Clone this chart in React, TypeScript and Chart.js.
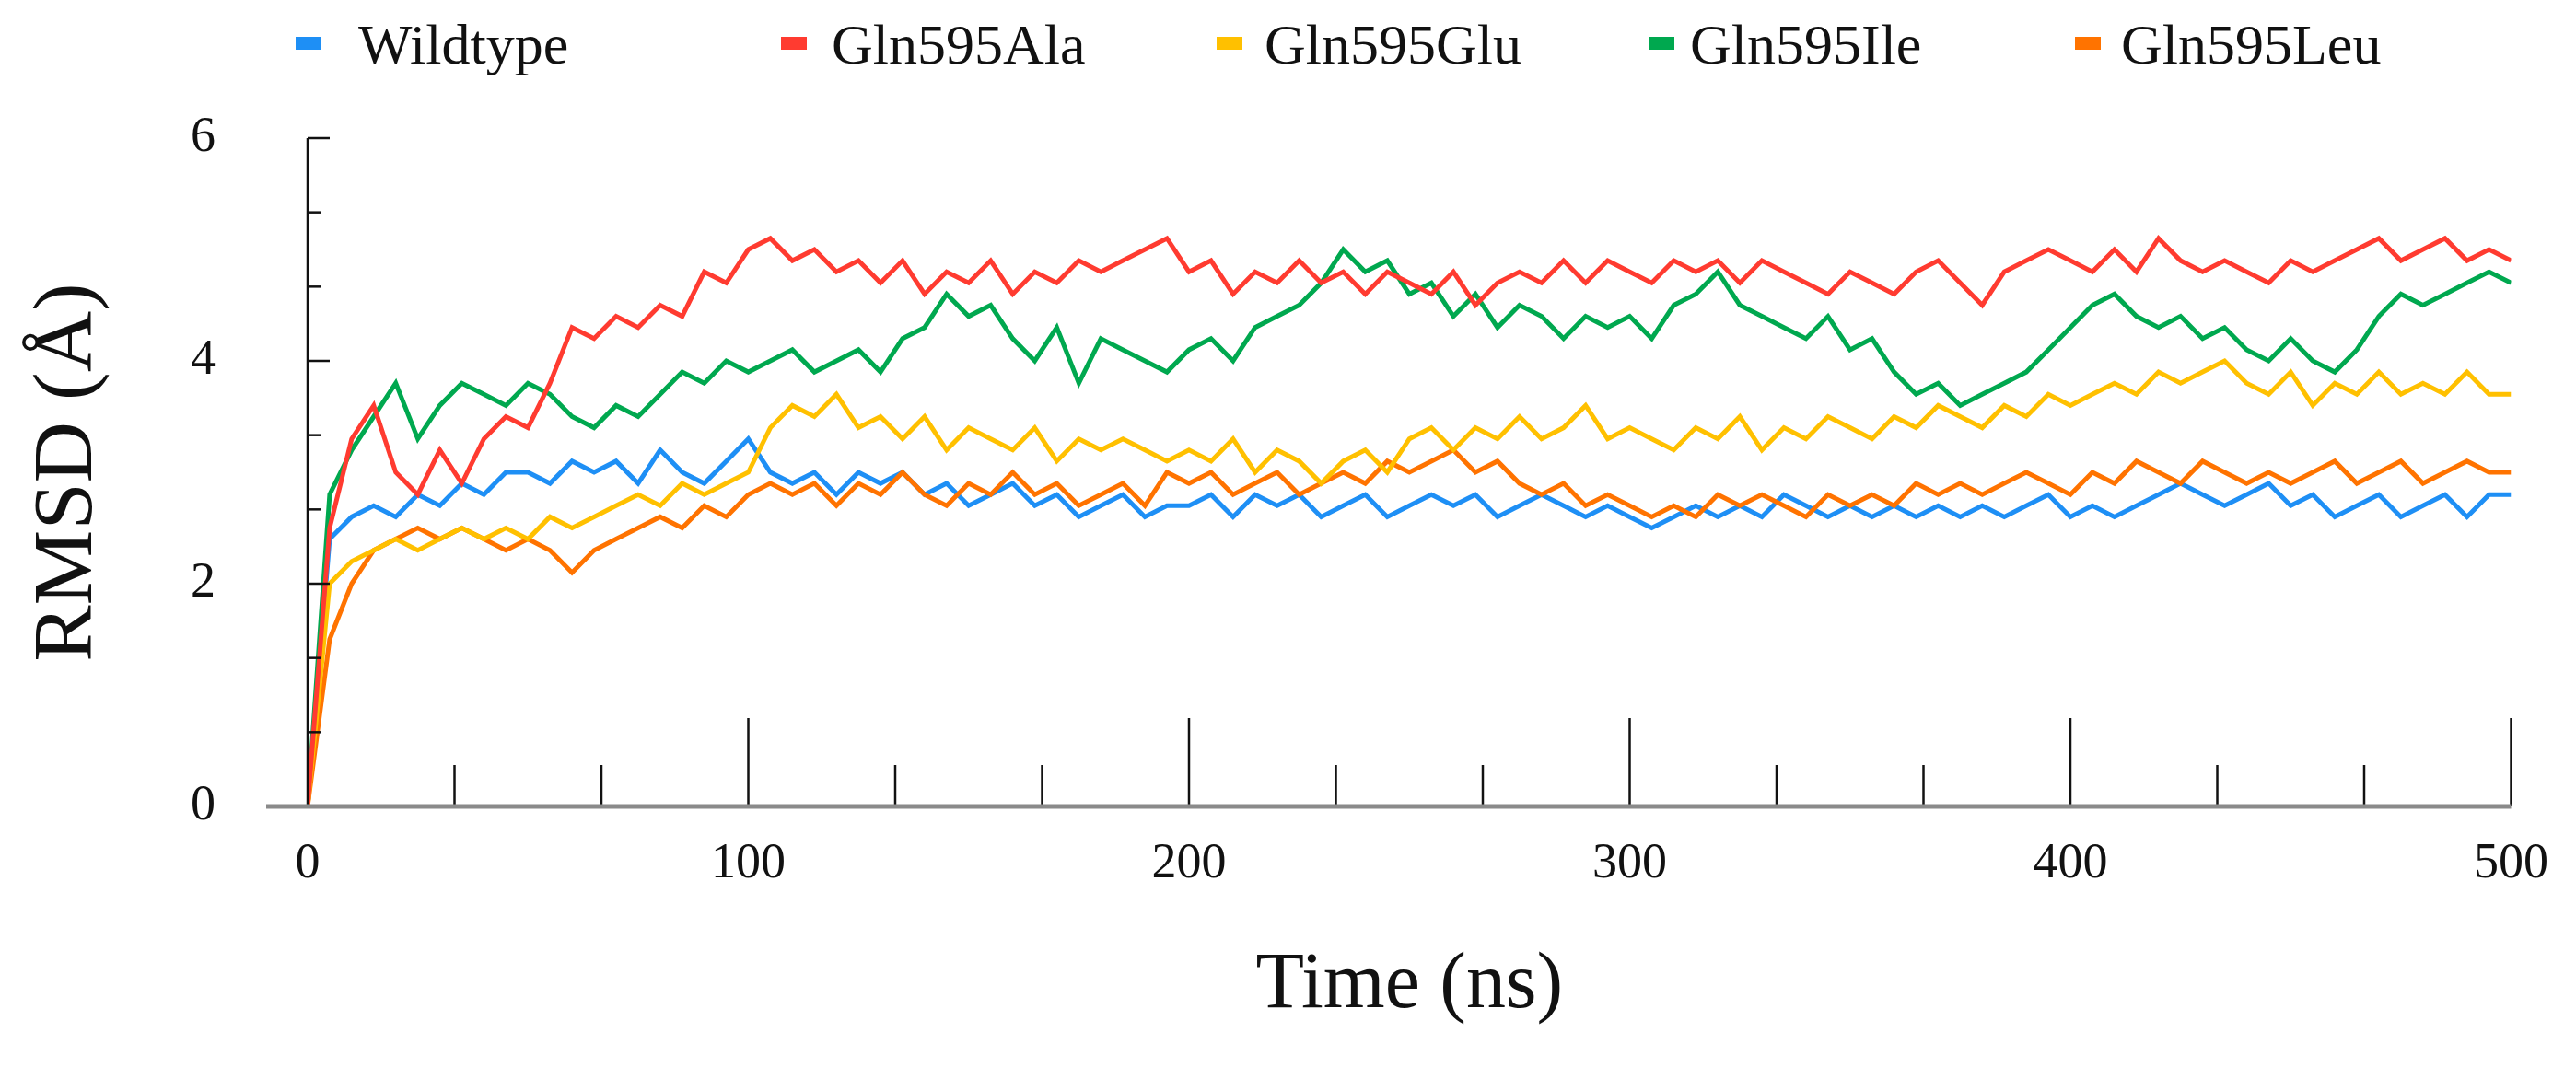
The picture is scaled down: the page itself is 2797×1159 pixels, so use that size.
import React, { useEffect, useRef } from "react";
import { Chart, registerables } from "chart.js";
Chart.register(...registerables);

const seriesNames = ["Wildtype", "Gln595Ala", "Gln595Glu", "Gln595Ile", "Gln595Leu"];
const seriesColors = ["#1E8FF5", "#FF3B30", "#FFC000", "#00A84F", "#FF7300"];
const xTickLabels = ["0", "100", "200", "300", "400", "500"];
const yTickLabels = ["0", "2", "4", "6"];

const wildtype = [0,2.4,2.6,2.7,2.6,2.8,2.7,2.9,2.8,3.0,3.0,2.9,3.1,3.0,3.1,2.9,3.2,3.0,2.9,3.1,3.3,3.0,2.9,3.0,2.8,3.0,2.9,3.0,2.8,2.9,2.7,2.8,2.9,2.7,2.8,2.6,2.7,2.8,2.6,2.7,2.7,2.8,2.6,2.8,2.7,2.8,2.6,2.7,2.8,2.6,2.7,2.8,2.7,2.8,2.6,2.7,2.8,2.7,2.6,2.7,2.6,2.5,2.6,2.7,2.6,2.7,2.6,2.8,2.7,2.6,2.7,2.6,2.7,2.6,2.7,2.6,2.7,2.6,2.7,2.8,2.6,2.7,2.6,2.7,2.8,2.9,2.8,2.7,2.8,2.9,2.7,2.8,2.6,2.7,2.8,2.6,2.7,2.8,2.6,2.8,2.8];
const ala = [0,2.5,3.3,3.6,3.0,2.8,3.2,2.9,3.3,3.5,3.4,3.8,4.3,4.2,4.4,4.3,4.5,4.4,4.8,4.7,5.0,5.1,4.9,5.0,4.8,4.9,4.7,4.9,4.6,4.8,4.7,4.9,4.6,4.8,4.7,4.9,4.8,4.9,5.0,5.1,4.8,4.9,4.6,4.8,4.7,4.9,4.7,4.8,4.6,4.8,4.7,4.6,4.8,4.5,4.7,4.8,4.7,4.9,4.7,4.9,4.8,4.7,4.9,4.8,4.9,4.7,4.9,4.8,4.7,4.6,4.8,4.7,4.6,4.8,4.9,4.7,4.5,4.8,4.9,5.0,4.9,4.8,5.0,4.8,5.1,4.9,4.8,4.9,4.8,4.7,4.9,4.8,4.9,5.0,5.1,4.9,5.0,5.1,4.9,5.0,4.9];
const glu = [0,2.0,2.2,2.3,2.4,2.3,2.4,2.5,2.4,2.5,2.4,2.6,2.5,2.6,2.7,2.8,2.7,2.9,2.8,2.9,3.0,3.4,3.6,3.5,3.7,3.4,3.5,3.3,3.5,3.2,3.4,3.3,3.2,3.4,3.1,3.3,3.2,3.3,3.2,3.1,3.2,3.1,3.3,3.0,3.2,3.1,2.9,3.1,3.2,3.0,3.3,3.4,3.2,3.4,3.3,3.5,3.3,3.4,3.6,3.3,3.4,3.3,3.2,3.4,3.3,3.5,3.2,3.4,3.3,3.5,3.4,3.3,3.5,3.4,3.6,3.5,3.4,3.6,3.5,3.7,3.6,3.7,3.8,3.7,3.9,3.8,3.9,4.0,3.8,3.7,3.9,3.6,3.8,3.7,3.9,3.7,3.8,3.7,3.9,3.7,3.7];
const ile = [0,2.8,3.2,3.5,3.8,3.3,3.6,3.8,3.7,3.6,3.8,3.7,3.5,3.4,3.6,3.5,3.7,3.9,3.8,4.0,3.9,4.0,4.1,3.9,4.0,4.1,3.9,4.2,4.3,4.6,4.4,4.5,4.2,4.0,4.3,3.8,4.2,4.1,4.0,3.9,4.1,4.2,4.0,4.3,4.4,4.5,4.7,5.0,4.8,4.9,4.6,4.7,4.4,4.6,4.3,4.5,4.4,4.2,4.4,4.3,4.4,4.2,4.5,4.6,4.8,4.5,4.4,4.3,4.2,4.4,4.1,4.2,3.9,3.7,3.8,3.6,3.7,3.8,3.9,4.1,4.3,4.5,4.6,4.4,4.3,4.4,4.2,4.3,4.1,4.0,4.2,4.0,3.9,4.1,4.4,4.6,4.5,4.6,4.7,4.8,4.7];
const leu = [0,1.5,2.0,2.3,2.4,2.5,2.4,2.5,2.4,2.3,2.4,2.3,2.1,2.3,2.4,2.5,2.6,2.5,2.7,2.6,2.8,2.9,2.8,2.9,2.7,2.9,2.8,3.0,2.8,2.7,2.9,2.8,3.0,2.8,2.9,2.7,2.8,2.9,2.7,3.0,2.9,3.0,2.8,2.9,3.0,2.8,2.9,3.0,2.9,3.1,3.0,3.1,3.2,3.0,3.1,2.9,2.8,2.9,2.7,2.8,2.7,2.6,2.7,2.6,2.8,2.7,2.8,2.7,2.6,2.8,2.7,2.8,2.7,2.9,2.8,2.9,2.8,2.9,3.0,2.9,2.8,3.0,2.9,3.1,3.0,2.9,3.1,3.0,2.9,3.0,2.9,3.0,3.1,2.9,3.0,3.1,2.9,3.0,3.1,3.0,3.0];
const seriesValues = [wildtype, ala, glu, ile, leu];
const drawOrder = [3, 0, 1, 4, 2]; // lower draws on top
const times = wildtype.map((_, i) => i * 5);

const legendPos = [
  { m: 321, t: 389 }, { m: 848, t: 903 }, { m: 1321, t: 1373 }, { m: 1790, t: 1835 }, { m: 2253, t: 2303 },
];

const tickPlugin = {
  id: "customTicks",
  afterDraw(chart: any) {
    const { ctx, scales } = chart;
    const x = scales.x, y = scales.y;
    const y0 = y.getPixelForValue(0);
    const x0 = x.getPixelForValue(0);
    ctx.save();
    ctx.strokeStyle = "#111";
    ctx.lineWidth = 2.5;
    for (let i = 1; i <= 15; i++) {
      const v = (i * 100) / 3;
      const px = x.getPixelForValue(v);
      const len = i % 3 === 0 ? 96 : 45;
      ctx.beginPath(); ctx.moveTo(px, y0); ctx.lineTo(px, y0 - len); ctx.stroke();
    }
    for (let i = 0; i <= 9; i++) {
      const v = (i * 2) / 3;
      const py = y.getPixelForValue(v);
      const len = i % 3 === 0 ? 24 : 14;
      ctx.beginPath(); ctx.moveTo(x0, py); ctx.lineTo(x0 + len, py); ctx.stroke();
    }
    ctx.beginPath(); ctx.moveTo(x0, y.getPixelForValue(6)); ctx.lineTo(x0, y0); ctx.stroke();
    ctx.strokeStyle = "#8a8a8a";
    ctx.lineWidth = 5;
    ctx.beginPath(); ctx.moveTo(x0 - 45, y0); ctx.lineTo(x.getPixelForValue(500), y0); ctx.stroke();
    ctx.restore();
  },
};

export default function App() {
  const ref = useRef<HTMLCanvasElement>(null);
  useEffect(() => {
    document.body.style.margin = "0";
    const chart = new Chart(ref.current!, {
      type: "line",
      data: {
        datasets: seriesNames.map((n, i) => ({
          label: n,
          data: seriesValues[i].map((v, j) => ({ x: times[j], y: v })),
          borderColor: seriesColors[i],
          borderWidth: 5,
          pointRadius: 0,
          tension: 0,
          order: drawOrder[i],
        })),
      },
      options: {
        animation: false,
        responsive: false,
        layout: { padding: { top: 150, right: 61, left: 0, bottom: 0 } },
        plugins: { legend: { display: false }, tooltip: { enabled: false } },
        scales: {
          x: {
            type: "linear", min: 0, max: 500,
            afterFit: (s: any) => { s.height = 283; },
            grid: { display: false, drawTicks: false },
            border: { display: false },
            ticks: {
              stepSize: 100, padding: 30, color: "#111",
              font: { family: "Liberation Serif", size: 54 },
              callback: (v: any) => (xTickLabels.includes(String(v)) ? String(v) : ""),
            },
            title: { display: true, text: "Time (ns)", color: "#111", font: { family: "Liberation Serif", size: 86 }, padding: { top: 36, bottom: 36 } },
          },
          y: {
            min: 0, max: 6,
            afterFit: (s: any) => { s.width = 334; },
            grid: { display: false, drawTicks: false },
            border: { display: false },
            ticks: {
              stepSize: 2, padding: 100, color: "#111",
              font: { family: "Liberation Serif", size: 54 },
              callback: (v: any) => (yTickLabels.includes(String(v)) ? String(v) : ""),
            },
            title: { display: true, text: "RMSD (Å)", color: "#111", font: { family: "Liberation Serif", size: 92 }, padding: { top: 20, bottom: 20 } },
          },
        },
      },
      plugins: [tickPlugin],
    });
    return () => chart.destroy();
  }, []);
  return (
    <div style={{ position: "relative", width: 2797, height: 1159, background: "#fff" }}>
      <canvas ref={ref} width={2797} height={1159} style={{ position: "absolute", left: 0, top: 0 }} />
      {seriesNames.map((n, i) => (
        <React.Fragment key={n}>
          <div style={{ position: "absolute", left: legendPos[i].m, top: 40, width: 28, height: 14, background: seriesColors[i] }} />
          <div style={{ position: "absolute", left: legendPos[i].t, top: 10, fontFamily: "Liberation Serif", fontSize: 62, lineHeight: "76px", color: "#111" }}>{n}</div>
        </React.Fragment>
      ))}
    </div>
  );
}
